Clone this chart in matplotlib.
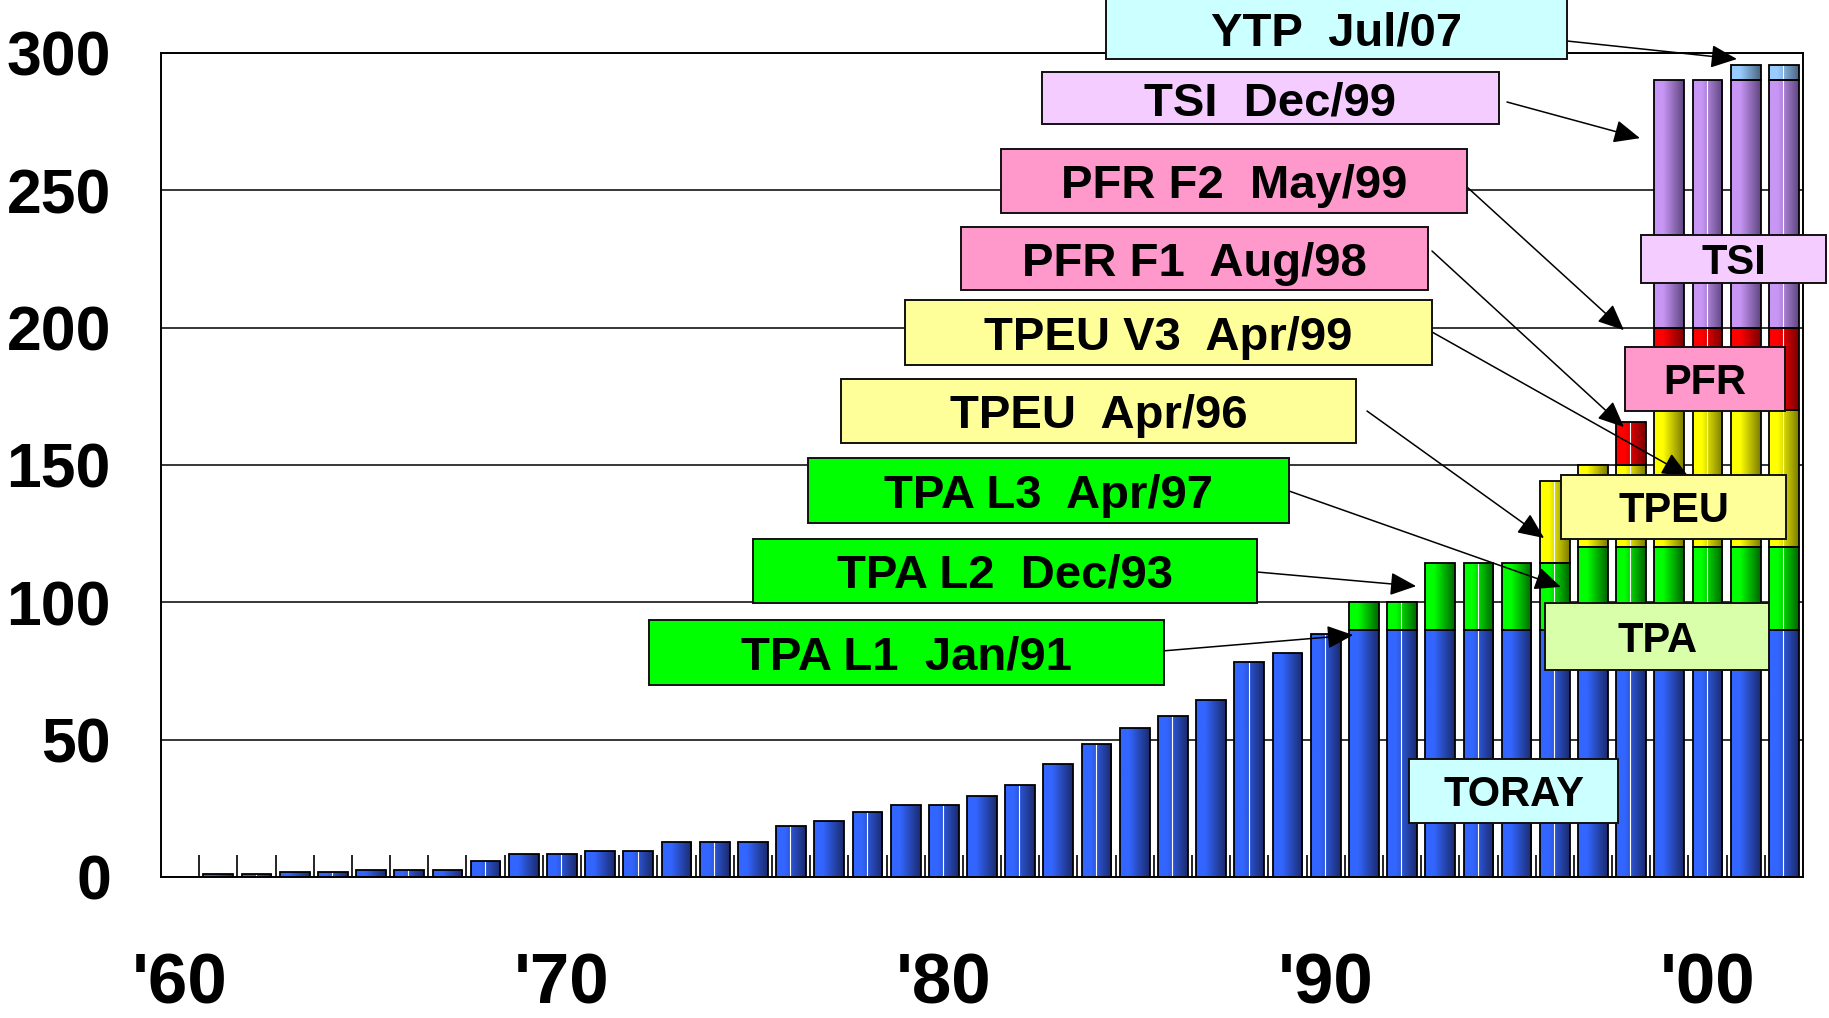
import numpy as np
import matplotlib.pyplot as plt
from matplotlib.colors import LinearSegmentedColormap
from matplotlib.patches import Rectangle

W, H = 1829, 1018
plt.rcParams['font.family'] = ['Liberation Sans', 'DejaVu Sans']

# --- data ---
years = list(range(1960, 2003))
toray = [0, 1.1, 1.1, 1.8, 1.8, 2.7, 2.7, 2.7, 6.0, 8.5,
         8.5, 9.3, 9.3, 12.6, 12.6, 12.6, 18.4, 20.3, 23.5, 26.1,
         26.1, 29.4, 33.5, 41.0, 48.5, 54.2, 58.5, 64.4, 78.4, 81.7,
         88.3, 90, 90, 90, 90, 90, 90, 90, 90, 90,
         90, 90, 90]
# later lines, 1991..2002
late_years = list(range(1991, 2003))
tpa  = [10, 10, 24.3, 24.3, 24.3, 24.3, 30, 30, 30, 30, 30, 30]
tpeu = [0, 0, 0, 0, 0, 29.9, 30, 30, 50, 50, 50, 50]
pfr  = [0, 0, 0, 0, 0, 0, 0, 15.5, 30, 30, 30, 30]
tsi  = [0, 0, 0, 0, 0, 0, 0, 0, 90, 90, 90, 90]
ytp  = [0, 0, 0, 0, 0, 0, 0, 0, 0, 0, 5.5, 5.5]

xtick_years = [1960, 1970, 1980, 1990, 2000]
xtick_labels = ["'60", "'70", "'80", "'90", "'00"]

# (light, dark) gradient ends per layer
grad_colors = {
    'toray': ('#3366ff', '#1a2a6c'),
    'tpa':   ('#00ff00', '#006400'),
    'tpeu':  ('#ffff00', '#7a7a00'),
    'pfr':   ('#ff0000', '#7a0000'),
    'tsi':   ('#c896f5', '#5e4680'),
    'ytp':   ('#99ccff', '#4a6580'),
}

fig = plt.figure(figsize=(W / 100, H / 100), dpi=100)
ax = fig.add_axes([161 / W, 1 - 877 / H, (1803 - 161) / W, (877 - 53) / H])

BW = 0.78
grad = np.linspace(0, 1, 128).reshape(1, -1)


def draw_layer(xs, vals, bottoms, key):
    xs_, v_, b_ = [], [], []
    for x, v, b in zip(xs, vals, bottoms):
        if v > 0:
            xs_.append(x); v_.append(v); b_.append(b)
    light, dark = grad_colors[key]
    cmap = LinearSegmentedColormap.from_list(key, [(0, light), (0.3, light), (1, dark)])
    bars = ax.bar(xs_, v_, bottom=b_, width=BW, color=light, linewidth=0, zorder=2)
    for p in bars:
        x0, y0 = p.get_x(), p.get_y()
        im = ax.imshow(grad, cmap=cmap, aspect='auto', interpolation='bilinear',
                       extent=(x0, x0 + p.get_width(), y0, y0 + p.get_height()), zorder=2.2)
        im.set_clip_path(p)
    ax.bar(xs_, v_, bottom=b_, width=BW, fill=False, edgecolor='black', linewidth=1.3, zorder=3)


draw_layer(years, toray, [0] * len(years), 'toray')
base = [toray[years.index(y)] for y in late_years]
for key, vals in [('tpa', tpa), ('tpeu', tpeu), ('pfr', pfr), ('tsi', tsi), ('ytp', ytp)]:
    draw_layer(late_years, vals, base, key)
    base = [b + v for b, v in zip(base, vals)]

# thin white streak seen on every other bar
totals = list(toray)
for y, b in zip(late_years, base):
    totals[years.index(y)] = b
even = [(y, t) for y, t in zip(years, totals) if y % 2 == 0 and t > 0]
ax.vlines([y - 0.02 for y, t in even], 0, [t for y, t in even], color='white', lw=0.8, zorder=2.5)

ax.set_xlim(1959.5, 2002.5)
ax.set_ylim(0, 300)
ax.set_yticks(range(0, 301, 50))
ax.yaxis.grid(True, color='black', lw=1.1)
ax.set_axisbelow(True)
for s in ax.spines.values():
    s.set_color('black'); s.set_linewidth(1.4)

ax.set_xticks(xtick_years, xtick_labels)
ax.set_xticks([y + 0.5 for y in years[:-1]], minor=True)
ax.tick_params(axis='y', length=0, pad=36, labelsize=45)
ax.tick_params(axis='x', which='major', length=0, pad=54, labelsize=51)
ax.tick_params(axis='x', which='minor', direction='in', length=16, width=1.2, color='black')
for lab in ax.get_yticklabels() + ax.get_xticklabels():
    lab.set_fontweight('bold')


def box(x0, y0, x1, y1, color, text, size):
    fig.add_artist(Rectangle((x0 / W, 1 - y1 / H), (x1 - x0) / W, (y1 - y0) / H,
                             transform=fig.transFigure, facecolor=color,
                             edgecolor='#111111', lw=1.4, zorder=5))
    fig.text((x0 + x1) / 2 / W, 1 - (y0 + y1) / 2 / H, text, ha='center',
             va='center_baseline', fontsize=size, fontweight='bold', zorder=6)


def arrow(start, tip):
    ax.annotate('', xy=tip, xycoords='data', xytext=(start[0], H - start[1]),
                textcoords='figure pixels', annotation_clip=False, zorder=7,
                arrowprops=dict(arrowstyle='-|>,head_length=0.95,head_width=0.42',
                                mutation_scale=17, lw=1.1, color='black',
                                shrinkA=0, shrinkB=0))


# start-up notes: box, text, arrow start (pixels), arrow tip (year, value)
notes = [
    ((1106, -2, 1567, 59), '#ccffff', 'YTP  Jul/07', (1567, 41), (2000.77, 297.8)),
    ((1042, 72, 1499, 124), '#f4ccff', 'TSI  Dec/99', (1507, 102), (1998.23, 269)),
    ((1001, 149, 1467, 213), '#ff99cc', 'PFR F2  May/99', (1467, 187), (1997.81, 199.1)),
    ((961, 227, 1428, 290), '#ff99cc', 'PFR F1  Aug/98', (1432, 251), (1997.81, 163.8)),
    ((905, 300, 1432, 365), '#ffff99', 'TPEU V3  Apr/99', (1432, 332), (1999.49, 146)),
    ((841, 379, 1356, 443), '#ffff99', 'TPEU  Apr/96', (1367, 411), (1995.72, 123.4)),
    ((808, 458, 1289, 523), '#00ff00', 'TPA L3  Apr/97', (1289, 491), (1996.16, 105.6)),
    ((753, 539, 1257, 603), '#00ff00', 'TPA L2  Dec/93', (1257, 572), (1992.37, 105.9)),
    ((649, 620, 1164, 685), '#00ff00', 'TPA L1  Jan/91', (1162, 651), (1990.72, 88.1)),
]
for (b, col, txt, st, tip) in notes:
    box(*b, col, txt, 34)
    arrow(st, tip)

# series name tags on the bars
tags = [
    ((1641, 235, 1826, 283), '#f4ccff', 'TSI'),
    ((1625, 347, 1785, 411), '#ff99cc', 'PFR'),
    ((1561, 475, 1786, 539), '#ffff99', 'TPEU'),
    ((1545, 603, 1769, 670), '#d9ffaa', 'TPA'),
    ((1409, 759, 1618, 823), '#ccffff', 'TORAY'),
]
for (b, col, txt) in tags:
    box(*b, col, txt, 30)

fig.savefig('out.png', dpi=100)
